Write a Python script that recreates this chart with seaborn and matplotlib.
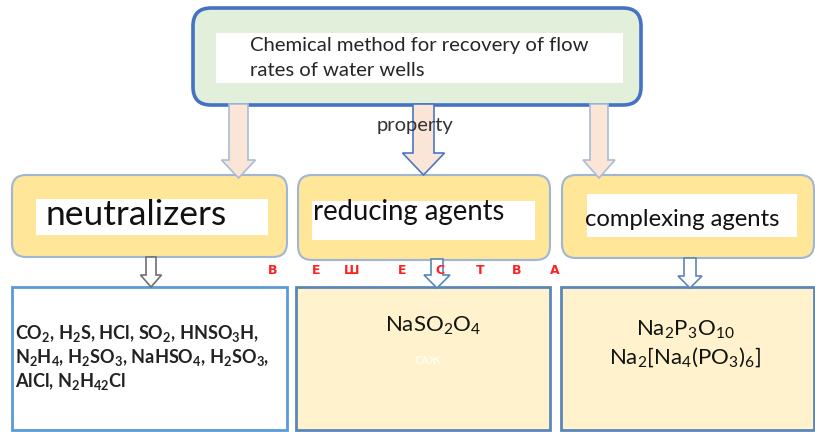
import re
import matplotlib
matplotlib.use("Agg")
import matplotlib.pyplot as plt
from matplotlib.patches import FancyBboxPatch, Rectangle, FancyArrow
import seaborn as sns

sns.set_theme(style="white")
plt.rcParams['font.family'] = ['Lato', 'DejaVu Sans']
plt.rcParams['mathtext.fontset'] = 'custom'
plt.rcParams['mathtext.rm'] = 'Lato'
plt.rcParams['mathtext.bf'] = 'Lato:bold'

# ---------------------------------------------------------
# Diagram texts
# ---------------------------------------------------------
title_lines = ["Chemical method for recovery of flow", "rates of water wells"]
link_label = "property"
group_names = ["neutralizers", "reducing agents", "complexing agents"]
red_letters = ["В", "Е", "Ш", "Е", "С", "Т", "В", "А"]
neutralizer_lines = ["CO_2, H_2S, HCl, SO_2, HNSO_3H,",
                     "N_2H_4, H_2SO_3, NaHSO_4, H_2SO_3,",
                     "AlCl, N_2H_42Cl"]
reducer_lines = ["NaSO_2O_4"]
complexer_lines = ["Na_2P_3O_10", "Na_2[Na_4(PO_3)_6]"]
hidden_note = "САЖ"


def chem(s, bold=False):
    # turn "_12" into a mathtext subscript
    if bold:
        return re.sub(r'_(\d+)', lambda m: r'$_{\mathbf{%s}}$' % m.group(1), s)
    return re.sub(r'_(\d+)', lambda m: r'$_{%s}$' % m.group(1), s)


def rbox(ax, x0, y0, x1, y1, fc, ec, lw, r):
    ax.add_patch(FancyBboxPatch((x0, y0), x1 - x0, y1 - y0,
                                boxstyle=f"round,pad=0,rounding_size={r}",
                                fc=fc, ec=ec, lw=lw, zorder=2))


def down_arrow(ax, x, y0, y1, w, hw, hl, fc, ec, lw=1.2):
    ax.add_patch(FancyArrow(x, y0, 0, y1 - y0, width=w, head_width=hw,
                            head_length=hl, length_includes_head=True,
                            fc=fc, ec=ec, lw=lw, zorder=4))


fig = plt.figure(figsize=(8.15, 4.32), dpi=100)
ax = fig.add_axes([0, 0, 1, 1])
ax.set_xlim(0, 815)
ax.set_ylim(432, 0)
ax.axis('off')

# top box
rbox(ax, 193, 8, 641, 105, '#e2efda', '#4472c4', 2.6, 18)
ax.add_patch(Rectangle((216, 33), 407, 50, fc='white', ec='none', zorder=3))
for i, line in enumerate(title_lines):
    ax.text(250, 45 + i * 25, line, fontsize=14.6, color='#262626',
            va='center', ha='left', zorder=5)

ax.text(377, 126, link_label, fontsize=14.5, color='#333333',
        va='center', ha='left', zorder=6)

# arrows from top box
down_arrow(ax, 238.5, 104, 178, 19, 34, 18, '#fbe5d6', '#a9bcd8')
down_arrow(ax, 423.5, 104, 175, 21, 42, 22, '#fbe5d6', '#4a78c2')
down_arrow(ax, 599, 104, 178, 18, 32, 18, '#fbe5d6', '#a9bcd8')

# middle row
mid_boxes = [(12, 175, 287, 257), (298, 175, 550, 260), (562, 175, 814, 258)]
inner_boxes = [(36, 199, 268, 235), (312, 201, 535, 240), (587, 194, 797, 237)]
label_pos = [(46, 215, 25.5), (313, 212, 19.8), (585, 220, 17.2)]
for (x0, y0, x1, y1), (a0, b0, a1, b1), (tx, ty, fs), name in zip(
        mid_boxes, inner_boxes, label_pos, group_names):
    rbox(ax, x0, y0, x1, y1, '#ffe699', '#9fb6d6', 1.5, 14)
    ax.add_patch(Rectangle((a0, b0), a1 - a0, b1 - b0, fc='white', ec='none', zorder=3))
    ax.text(tx, ty, name, fontsize=fs, color='#111111', va='center', ha='left', zorder=5)

# small arrows to bottom row
down_arrow(ax, 151, 257, 287, 10, 21, 12, 'white', '#707070')
down_arrow(ax, 437, 259, 288, 12, 26, 13, 'white', '#5b87b8')
down_arrow(ax, 690, 258, 288, 12, 24, 12, 'white', '#5b87b8')

# bottom row
ax.add_patch(Rectangle((12, 287), 275, 143, fc='white', ec='#5b9bd5', lw=2, zorder=2))
ax.add_patch(Rectangle((296, 287), 254, 143, fc='#fff2cc', ec='#5b87b8', lw=2, zorder=2))
ax.add_patch(Rectangle((561, 287), 253, 143, fc='#fff2cc', ec='#5b87b8', lw=2, zorder=2))

for i, line in enumerate(neutralizer_lines):
    ax.text(15, 333 + i * 24, chem(line, bold=True), fontsize=13.1,
            fontweight='bold', color='#222222', va='center', ha='left', zorder=5)
for i, line in enumerate(reducer_lines):
    ax.text(433, 326 + i * 28, chem(line), fontsize=16, color='#111111',
            va='center', ha='center', zorder=5)
ax.text(428, 361, hidden_note, fontsize=8, color='white', va='center', ha='center', zorder=5)
for i, line in enumerate(complexer_lines):
    ax.text(685, 330 + i * 28, chem(line), fontsize=16, color='#111111',
            va='center', ha='center', zorder=5)

# red letters between rows
letter_x = [273, 316, 352, 402, 440, 480, 517, 555]
for x, ch in zip(letter_x, red_letters):
    ax.text(x, 270, ch, fontsize=9, fontweight='bold', color='#ff2020',
            va='center', ha='center', family=['DejaVu Sans'], zorder=6)

fig.savefig('out.png', dpi=100)
